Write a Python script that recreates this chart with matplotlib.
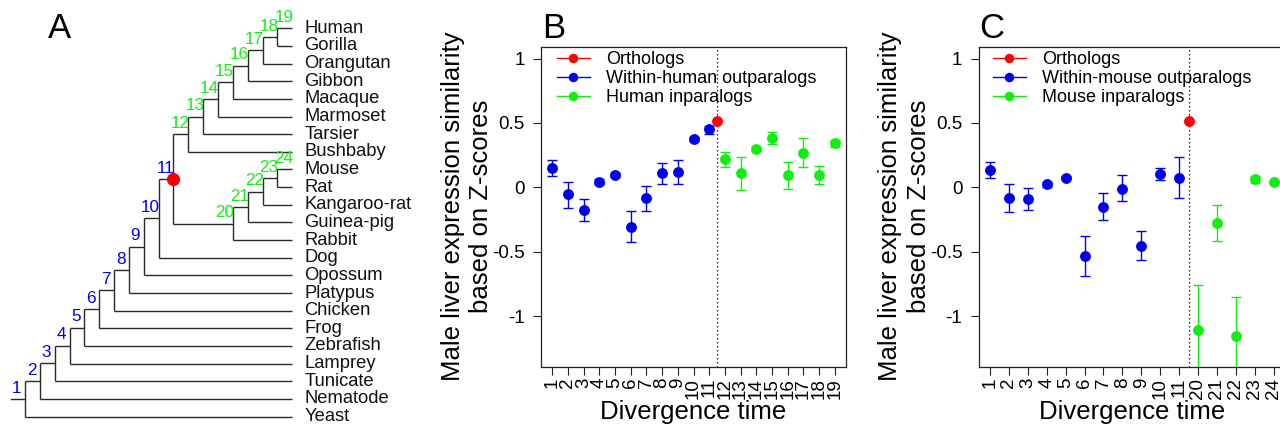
import matplotlib
matplotlib.use("Agg")
import matplotlib.pyplot as plt
from matplotlib.lines import Line2D

plt.rcParams['font.family'] = ['Liberation Sans', 'DejaVu Sans']

# ---------------- data ----------------
# Panel A tree (children listed top -> bottom)
primate_chain = ["Bushbaby", "Tarsier", "Marmoset", "Macaque", "Gibbon", "Orangutan"]
primate_nodes = ["12", "13", "14", "15", "16", "17"]
glires_chain = ["Rabbit", "Guinea-pig", "Kangaroo-rat"]
glires_nodes = ["20", "21", "22"]
outgroups = ["Dog", "Opossum", "Platypus", "Chicken", "Frog", "Zebrafish",
             "Lamprey", "Tunicate", "Nematode", "Yeast"]
outgroup_nodes = ["10", "9", "8", "7", "6", "5", "4", "3", "2", "1"]
tip_numbers = {"Human": "19", "Mouse": "24"}
blue_numbers = [str(i) for i in range(1, 12)]

# Panel B
b_labels = [str(i) for i in range(1, 20)]
b_out_val = [0.147, -0.054, -0.176, 0.044, 0.096, -0.305, -0.085, 0.109, 0.119, 0.375, 0.450]
b_out_lo = [0.088, -0.163, -0.259, 0.026, 0.080, -0.427, -0.184, 0.026, 0.023, 0.359, 0.414]
b_out_hi = [0.212, 0.044, -0.088, 0.062, 0.112, -0.181, 0.013, 0.189, 0.215, 0.391, 0.479]
b_ort_val = 0.517
b_in_val = [0.217, 0.109, 0.300, 0.386, 0.096, 0.269, 0.096, 0.342]
b_in_lo = [0.160, -0.021, 0.284, 0.336, -0.016, 0.160, 0.023, 0.310]
b_in_hi = [0.277, 0.238, 0.316, 0.432, 0.199, 0.380, 0.166, 0.367]
b_legend = ["Orthologs", "Within-human outparalogs", "Human inparalogs"]

# Panel C
c_labels = [str(i) for i in range(1, 12)] + ["20", "21", "22", "23", "24"]
c_out_val = [0.135, -0.086, -0.091, 0.023, 0.075, -0.534, -0.153, -0.010, -0.454, 0.104, 0.075]
c_out_lo = [0.070, -0.192, -0.179, 0.005, 0.062, -0.687, -0.257, -0.106, -0.560, 0.057, -0.083]
c_out_hi = [0.197, 0.023, -0.003, 0.041, 0.088, -0.379, -0.047, 0.093, -0.342, 0.150, 0.236]
c_ort_val = 0.519
c_in_val = [-1.108, -0.278, -1.154, 0.065, 0.039]
c_in_lo = [-1.46, -0.420, -1.46, 0.036, 0.025]
c_in_hi = [-0.757, -0.135, -0.851, 0.091, 0.053]
c_legend = ["Orthologs", "Within-mouse outparalogs", "Mouse inparalogs"]

RED = "#ff0000"
BLUE = "#0000ee"
GREEN = "#11ee11"

# ---------------- build tree ----------------
def N(label, *children):
    return (label, list(children))

prim = N("18", "Human", "Gorilla")
for tip, lab in zip(reversed(primate_chain), reversed(primate_nodes)):
    prim = N(lab, prim, tip)
glir = N("23", "Mouse", "Rat")
for tip, lab in zip(reversed(glires_chain), reversed(glires_nodes)):
    glir = N(lab, glir, tip)
tree = N("11", prim, glir)
for tip, lab in zip(outgroups, outgroup_nodes):
    tree = N(lab, tree, tip)

def height(n):
    if isinstance(n, str):
        return 0
    return 1 + max(height(c) for c in n[1])

H = height(tree)
tips_order = []
pos = {}

def layout(n):
    if isinstance(n, str):
        y = len(tips_order)
        tips_order.append(n)
        pos[n] = (H, y)
        return
    for c in n[1]:
        layout(c)
    ys = [pos[c if isinstance(c, str) else c[0]][1] for c in n[1]]
    pos[n[0]] = (H - height(n), (min(ys) + max(ys)) / 2)

layout(tree)

fig = plt.figure(figsize=(12.8, 4.32), dpi=100)

# ---------------- panel A ----------------
axA = fig.add_axes([0, 0, 430 / 1280, 1])
axA.set_xlim(-25 / 14.85, (430 - 25) / 14.85)
axA.set_ylim((432 - 28.3) / 17.65, -28.3 / 17.65)
axA.axis('off')
tree_col = "#2a2a2a"

def draw(n):
    if isinstance(n, str):
        return
    x0, y0 = pos[n[0]]
    ys = []
    for c in n[1]:
        key = c if isinstance(c, str) else c[0]
        xc, yc = pos[key]
        ys.append(yc)
        axA.plot([x0, xc], [yc, yc], color=tree_col, lw=1.0, solid_capstyle='butt')
        draw(c)
    axA.plot([x0, x0], [min(ys), max(ys)], color=tree_col, lw=1.0, solid_capstyle='butt')

draw(tree)
rx, ry = pos[tree[0]]
axA.plot([rx - 0.95, rx], [ry, ry], color=tree_col, lw=1.0)

for t in tips_order:
    x, y = pos[t]
    axA.annotate(t, (x, y), xytext=(8.6, 0), textcoords='offset points',
                 ha='left', va='center', fontsize=13.2, color='#111111')

labels_all = list(pos.keys())
for key in labels_all:
    if key in tips_order:
        if key not in tip_numbers:
            continue
        txt = tip_numbers[key]
    else:
        txt = key
    x, y = pos[key]
    col = BLUE if txt in blue_numbers else GREEN
    axA.annotate(txt, (x, y), xytext=(-6.0, 4.6), textcoords='offset points',
                 ha='center', va='baseline', fontsize=12.3, color=col)

x11, y11 = pos["11"]
axA.plot([x11], [y11], 'o', color=RED, ms=8.5, zorder=5)

fig.text(48 / 1280, 1 - 38 / 432, "A", fontsize=25, ha='left', va='baseline')

# ---------------- panels B & C ----------------
def panel(left_px, width_px, labels, out_val, out_lo, out_hi, ort_val,
          in_val, in_lo, in_hi, legend_labels, letter, leg_x):
    ax = fig.add_axes([left_px / 1280, (432 - 366.7) / 432, width_px / 1280, 320 / 432])
    n_out = len(out_val)
    xo = list(range(1, n_out + 1))
    xi = list(range(n_out + 1, n_out + 1 + len(in_val)))
    xr = n_out + 0.5
    ax.axvline(xr, color='#222222', lw=0.9, ls=(0, (1.2, 2)), zorder=1)
    ax.errorbar(xo, out_val,
                yerr=[[v - l for v, l in zip(out_val, out_lo)], [h - v for v, h in zip(out_val, out_hi)]],
                fmt='o', color=BLUE, ms=6.8, elinewidth=1, capsize=3.6, capthick=1)
    ax.errorbar(xi, in_val,
                yerr=[[v - l for v, l in zip(in_val, in_lo)], [h - v for v, h in zip(in_val, in_hi)]],
                fmt='o', color=GREEN, ms=6.8, elinewidth=1, capsize=3.6, capthick=1)
    ax.plot([xr], [ort_val], 'o', color=RED, ms=6.8, zorder=4)
    npts = len(labels)
    ext = (npts - 1) * 0.04
    ax.set_xlim(1 - ext, npts + ext)
    ax.set_ylim(-1.392, 1.092)
    ax.set_xticks(range(1, npts + 1))
    ax.set_xticklabels(labels, rotation=90)
    ax.set_yticks([-1, -0.5, 0, 0.5, 1])
    ax.set_yticklabels(["-1", "-0.5", "0", "0.5", "1"])
    ax.tick_params(axis='both', direction='out', length=5.8, width=0.8,
                   labelsize=13.5, color='#222222')
    ax.tick_params(axis='y', pad=6)
    ax.tick_params(axis='x', pad=2.2)
    for s in ax.spines.values():
        s.set_linewidth(0.9)
        s.set_color('#222222')
    ax.set_xlabel("Divergence time", fontsize=18.5, labelpad=1)
    handles = [Line2D([], [], color=c, marker='o', ms=5.8, lw=1)
               for c in (RED, BLUE, GREEN)]
    ax.legend(handles, legend_labels, loc='upper left', bbox_to_anchor=(leg_x, 0.985),
              frameon=False, fontsize=13, handlelength=1.8, handletextpad=0.9,
              labelspacing=0.1, borderpad=0, borderaxespad=0)
    fig.text((left_px - 74) / 1280, (432 - 206.7) / 432,
             "Male liver expression similarity\nbased on Z-scores",
             rotation=90, ha='center', va='center', fontsize=18.5, linespacing=1.25)
    fig.text((left_px + 1) / 1280, 1 - 38 / 432, letter, fontsize=25, ha='left', va='baseline')
    return ax

panel(541, 305, b_labels, b_out_val, b_out_lo, b_out_hi, b_ort_val,
      b_in_val, b_in_lo, b_in_hi, b_legend, "B", 0.0525)
panel(978.7, 306.2, c_labels, c_out_val, c_out_lo, c_out_hi, c_ort_val,
      c_in_val, c_in_lo, c_in_hi, c_legend, "C", 0.047)

fig.savefig("out.png", dpi=100)
